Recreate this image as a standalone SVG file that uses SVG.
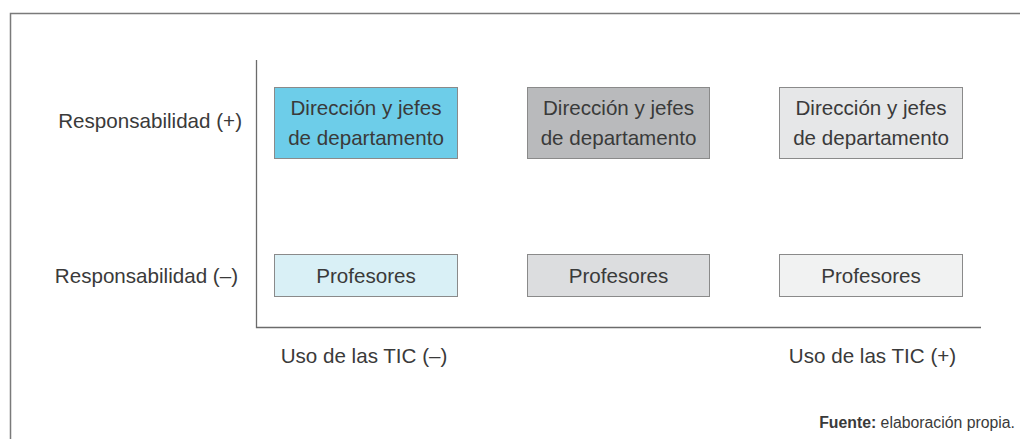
<svg xmlns="http://www.w3.org/2000/svg" width="1020" height="439" viewBox="0 0 1020 439">
<style>
  text { font-family: "Liberation Sans", Arial, sans-serif; fill: #3a3a3a; }
  .t { font-size: 20.6px; }
  .c { text-anchor: middle; }
  .box { stroke: #8a8a8a; stroke-width: 1; }
  .ax { stroke: #6b6b6b; stroke-width: 1.3; fill: none; }
  .src { font-size: 15.8px; text-anchor: end; }
</style>
<rect width="1020" height="439" fill="#ffffff"/>
<path d="M10.5,439 V13.5 H1020" fill="none" stroke="#7a7a7a" stroke-width="1.5"/>
<g id="connectors">
  <path class="ax" d="M256.5,60 V327.5 H981"/>
</g>
<g id="label-resp-plus"><text class="t" x="242" y="128" text-anchor="end">Responsabilidad (+)</text></g>
<g id="label-resp-minus"><text class="t" x="238" y="283" text-anchor="end">Responsabilidad (–)</text></g>
<g id="label-tic-minus"><text class="t c" x="364" y="363">Uso de las TIC (–)</text></g>
<g id="label-tic-plus"><text class="t c" x="872.5" y="363">Uso de las TIC (+)</text></g>
<g id="dir1">
  <rect class="box" x="274.5" y="87.5" width="183" height="71" fill="#6dcde9"/>
  <text class="t c" x="366" y="115">Dirección y jefes</text>
  <text class="t c" x="366" y="145">de departamento</text>
</g>
<g id="dir2">
  <rect class="box" x="527.5" y="87.5" width="182" height="71" fill="#b9babc"/>
  <text class="t c" x="618.5" y="115">Dirección y jefes</text>
  <text class="t c" x="618.5" y="145">de departamento</text>
</g>
<g id="dir3">
  <rect class="box" x="779.5" y="87.5" width="183" height="71" fill="#e6e7e8"/>
  <text class="t c" x="871" y="115">Dirección y jefes</text>
  <text class="t c" x="871" y="145">de departamento</text>
</g>
<g id="prof1">
  <rect class="box" x="274.5" y="254.5" width="183" height="42" fill="#d9f0f6"/>
  <text class="t c" x="366" y="283">Profesores</text>
</g>
<g id="prof2">
  <rect class="box" x="527.5" y="254.5" width="182" height="42" fill="#dcdddf"/>
  <text class="t c" x="618.5" y="283">Profesores</text>
</g>
<g id="prof3">
  <rect class="box" x="779.5" y="254.5" width="183" height="42" fill="#f1f2f2"/>
  <text class="t c" x="871" y="283">Profesores</text>
</g>
<g id="source">
  <text class="src" x="1015" y="428"><tspan font-weight="bold">Fuente:</tspan> elaboración propia.</text>
</g>
</svg>
